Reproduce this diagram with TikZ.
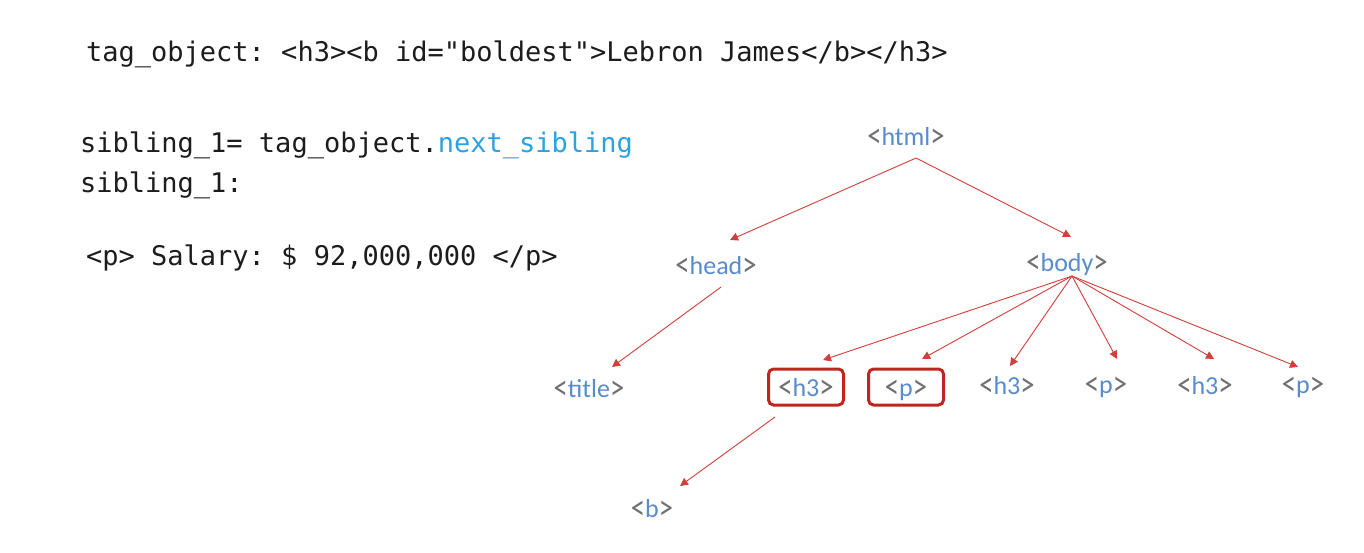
\documentclass[tikz,border=0pt]{standalone}
\usepackage{graphicx}
\usepackage{fontspec}
\setmainfont{Carlito}
\setmonofont{DejaVu Sans Mono}
\usetikzlibrary{arrows.meta}
\definecolor{linkred}{RGB}{210,62,58}
\definecolor{boxred}{RGB}{192,38,30}
\definecolor{tagblue}{RGB}{88,140,204}
\definecolor{taggrey}{RGB}{112,112,112}
\definecolor{attrblue}{RGB}{44,162,222}
\definecolor{codeblack}{RGB}{28,28,28}
\newcommand{\tagbrk}[1]{\textcolor{taggrey}{\raisebox{-0.06em}{\scalebox{1.1}[1.35]{#1}}}}
\newcommand{\htmltag}[1]{\tagbrk{<}\textcolor{tagblue}{#1}\tagbrk{>}}

\begin{document}
\begin{tikzpicture}
[
    x=1pt, y=-1pt,
    code/.style={anchor=base west, inner sep=0pt, text=codeblack, font=\ttfamily\fontsize{27}{32}\selectfont},
    tag/.style={font=\fontsize{26}{30}\selectfont, text height=22.5pt, text depth=3.5pt},
    picked/.style={tag, draw=boxred, line width=3pt, rounded corners=5pt, minimum width=75pt, minimum height=36pt},
    link/.style={draw=linkred, line width=0.9pt, -{Triangle[length=8pt,width=8pt]}}
]
    \fill[white] (0,0) rectangle (1364,552);
    \useasboundingbox (0,0) rectangle (1364,552);

    % code on the left
    \node [code] (line1) at (86,61) {tag\_object: <h3><b id="boldest">Lebron James</b></h3>};
    \node [code] (line2) at (80,152) {sibling\_1= tag\_object.\textcolor{attrblue}{next\_sibling}};
    \node [code] (line3) at (80,192) {sibling\_1:};
    \node [code] (line4) at (86,265) {<p> Salary: \$ 92,000,000 </p>};

    % the tree
    \node [tag] (html) at (906,136) {\htmltag{html}};
    \node [tag] (head) at (716,265) {\htmltag{head}};
    \node [tag] (body) at (1067,262) {\htmltag{body}};
    \node [tag] (title) at (589,388) {\htmltag{title}};
    \node [picked] (h3a) at (806,387) {\htmltag{h3}};
    \node [picked] (pa) at (906,387) {\htmltag{p}};
    \node [tag] (h3b) at (1007,385) {\htmltag{h3}};
    \node [tag] (pb) at (1106,384) {\htmltag{p}};
    \node [tag] (h3c) at (1205,385) {\htmltag{h3}};
    \node [tag] (pc) at (1303,384) {\htmltag{p}};
    \node [tag] (b) at (652,508) {\htmltag{b}};

    \coordinate (htmlfork) at ([xshift=10pt,yshift=-5.5pt]html.south);
    \coordinate (headfork) at ([xshift=5pt,yshift=-5.5pt]head.south);
    \coordinate (bodyfork) at ([xshift=5pt,yshift=2.5pt]body.south);
    \coordinate (h3fork) at ([xshift=-31pt,yshift=-10.5pt]h3a.south);

    \draw [link] (htmlfork) -- ([xshift=14pt,yshift=8.5pt]head.north);
    \draw [link] (htmlfork) -- ([xshift=4pt,yshift=8.5pt]body.north);
    \draw [link] (headfork) -- ([xshift=23pt,yshift=4.5pt]title.north);
    \draw [link] (bodyfork) -- ([xshift=17pt,yshift=7.5pt]h3a.north);
    \draw [link] (bodyfork) -- ([xshift=16pt,yshift=8.5pt]pa.north);
    \draw [link] (bodyfork) -- ([xshift=3pt,yshift=2.5pt]h3b.north);
    \draw [link] (bodyfork) -- ([xshift=11pt,yshift=8.5pt]pb.north);
    \draw [link] (bodyfork) -- ([xshift=9pt,yshift=9.5pt]h3c.north);
    \draw [link] (bodyfork) -- ([xshift=-5pt,yshift=0.5pt]pc.north);
    \draw [link] (h3fork) -- ([xshift=28pt,yshift=5.5pt]b.north);
\end{tikzpicture}
\end{document}
